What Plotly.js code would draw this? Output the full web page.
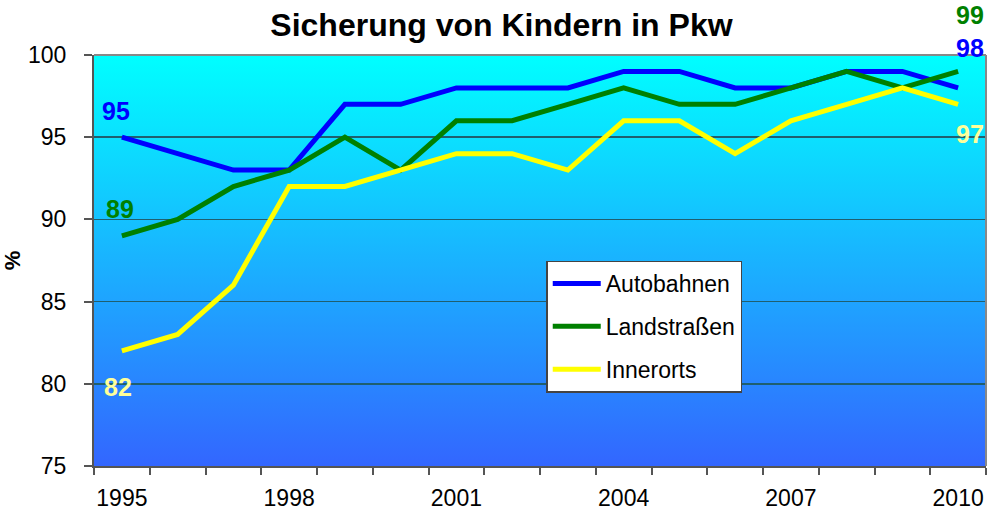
<!DOCTYPE html>
<html>
<head>
<meta charset="utf-8">
<script src="https://cdn.plot.ly/plotly-3.0.1.min.js"></script>
<style>html,body{margin:0;padding:0;background:#fff;}#chart{width:991px;height:520px;}</style>
</head>
<body>
<div id="chart"></div>
<script>
const years = ["1995","1996","1997","1998","1999","2000","2001","2002","2003","2004","2005","2006","2007","2008","2009","2010"];
const autobahnen = [95,94,93,93,97,97,98,98,98,99,99,98,98,99,99,98];
const landstrassen = [89,90,92,93,95,93,96,96,97,98,97,97,98,99,98,99];
const innerorts = [82,83,86,92,92,93,94,94,93,96,96,94,96,97,98,97];
const tickLabels = ["1995","1998","2001","2004","2007","2010"];

const xi = years.map((_, i) => i);
const tickVals = tickLabels.map(t => years.indexOf(t));
const font = "Liberation Sans, Arial, sans-serif";

const mk = (name, y, color) => ({
  type: "scatter", mode: "lines", name: name, x: xi, y: y, legendgroup: name,
  line: {color: color, width: 5}, hoverinfo: "skip"
});

const data = [
  mk("Autobahnen", autobahnen, "#0000FF"),
  mk("Landstraßen", landstrassen, "#008000"),
  mk("Innerorts", innerorts, "#FFFF00")
];

const last = years.length - 1;
const ann = (x, y, txt, color, xs, ys) => ({
  x: x, y: y, xref: "x", yref: "y", text: txt, showarrow: false,
  xshift: xs, yshift: ys, font: {family: font, size: 25, color: color, weight: "bold"}
});
const annotations = [
  ann(0, autobahnen[0], String(autobahnen[0]), "#0000FF", -6, 26),
  ann(0, landstrassen[0], String(landstrassen[0]), "#008000", -2, 27),
  ann(0, innerorts[0], String(innerorts[0]), "#FFFF99", -4, -36),
  ann(last, landstrassen[last], String(landstrassen[last]), "#008000", 12, 56),
  ann(last, autobahnen[last], String(autobahnen[last]), "#0000FF", 12, 40),
  ann(last, innerorts[last], String(innerorts[last]), "#FFFF99", 12, -30)
];

const svg = '<svg xmlns="http://www.w3.org/2000/svg" width="100" height="100" preserveAspectRatio="none">' +
  '<defs><linearGradient id="g" x1="0" y1="0" x2="0" y2="1">' +
  '<stop offset="0" stop-color="#00FFFF"/><stop offset="1" stop-color="#3366FF"/>' +
  '</linearGradient></defs><rect width="100" height="100" fill="url(#g)"/></svg>';

const layout = {
  width: 991, height: 520,
  margin: {l: 94, r: 5, t: 55, b: 54},
  paper_bgcolor: "#FFFFFF",
  plot_bgcolor: "rgba(0,0,0,0)",
  font: {family: font, size: 23, color: "#000"},
  title: {text: "Sicherung von Kindern in Pkw", font: {family: font, size: 32, color: "#000", weight: "bold"},
          x: 0.506, xref: "container", xanchor: "center", y: 0.952, yanchor: "middle"},
  images: [{source: "data:image/svg+xml;charset=utf-8," + encodeURIComponent(svg),
            xref: "paper", yref: "paper", x: 0, y: 1, sizex: 1, sizey: 1,
            sizing: "stretch", layer: "below", xanchor: "left", yanchor: "top"}],
  xaxis: {
    range: [-0.5, last + 0.5], tickmode: "array", tickvals: tickVals, ticktext: tickLabels,
    ticks: "", showgrid: false, zeroline: false,
    showline: true, linecolor: "#555", linewidth: 2, ticklabelstandoff: 10,
    tickfont: {family: font, size: 23, color: "#000"},
    minor: {tickmode: "linear", tick0: -0.5, dtick: 1, ticks: "outside", ticklen: 7, tickwidth: 2, tickcolor: "#555", showgrid: false}
  },
  yaxis: {
    range: [75, 100], dtick: 5, tick0: 75, ticks: "outside", ticklen: 8, tickwidth: 2, tickcolor: "#555",
    showgrid: true, gridcolor: "#1f5f6f", gridwidth: 1.5, zeroline: false,
    showline: true, linecolor: "#555", linewidth: 2, ticklabelstandoff: 13,
    tickfont: {family: font, size: 23, color: "#000"},
    title: {text: "%", font: {family: font, size: 22, color: "#000", weight: "bold"}, standoff: 13}
  },
  shapes: [
    {type: "line", xref: "paper", yref: "paper", x0: 0, x1: 1, y0: 1, y1: 1, line: {color: "#888", width: 2}},
    {type: "line", xref: "paper", yref: "paper", x0: 1, x1: 1, y0: 0, y1: 1, line: {color: "#888", width: 2}}
  ],
  legend: {
    x: 0.507, y: 0.5, xanchor: "left", yanchor: "top",
    bgcolor: "#FFFFFF", bordercolor: "#444", borderwidth: 1.5,
    font: {family: font, size: 23, color: "#000"},
    tracegroupgap: 10, itemwidth: 48, entrywidth: 192
  },
  annotations: annotations,
  showlegend: true
};

Plotly.newPlot("chart", data, layout, {displayModeBar: false, staticPlot: true});
</script>
</body>
</html>
